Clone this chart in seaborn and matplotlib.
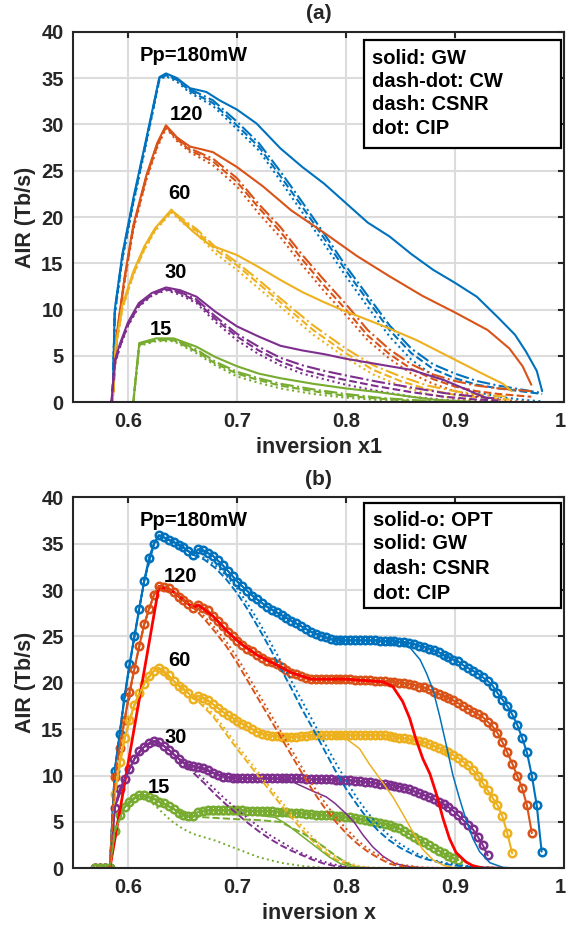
import numpy as np
import matplotlib
matplotlib.use("Agg")
import matplotlib.pyplot as plt
from matplotlib.patches import Rectangle
from matplotlib.transforms import ScaledTranslation
import seaborn as sns

# ---------------- colours ----------------
C_BLUE, C_ORANGE, C_YELLOW, C_PURPLE, C_GREEN = "#0072BD", "#D95319", "#EDB120", "#7E2F8E", "#77AC30"
C_RED = "#FF0000"

# ---------------- panel (a) data ----------------
x_a_blue_gw = [0.575,0.586,0.588,0.595,0.605,0.617,0.629,0.635,0.645,0.657,0.672,0.684,0.70,0.718,0.74,0.76,0.78,0.80,0.82,0.84,0.86,0.88,0.90,0.92,0.94,0.955,0.965,0.975,0.98]
y_a_blue_gw = [0,0,10.0,16.0,22.0,28.5,35.1,35.5,35.0,33.9,33.5,32.6,31.6,30.1,27.4,25.4,23.6,21.5,19.4,17.9,16.0,14.3,12.9,11.4,9.1,7.3,5.5,3.4,1.2]
x_a_blue_d = [0.575,0.586,0.588,0.595,0.605,0.617,0.629,0.635,0.645,0.657,0.678,0.70,0.72,0.74,0.76,0.78,0.80,0.82,0.84,0.86,0.88,0.90,0.92,0.94,0.96,0.98]
y_a_blue_cw = [0,0,9.8,15.8,21.8,28.3,35.0,35.4,34.9,33.8,32.6,30.3,28.0,24.9,21.6,18.2,14.7,11.5,8.3,5.8,4.1,3.1,2.3,1.8,1.4,1.0]
y_a_blue_csnr = [0,0,9.6,15.6,21.6,28.2,34.9,35.3,34.8,33.6,32.3,29.9,27.6,24.4,21.1,17.7,14.2,11.0,7.8,5.3,3.6,2.6,1.9,1.5,1.2,0.9]
y_a_blue_cip = [0,0,9.4,15.4,21.4,28.0,34.8,35.2,34.6,33.4,32.0,29.5,27.2,23.9,20.5,17.1,13.6,10.3,7.1,4.6,2.9,1.8,1.1,0.6,0.3,0.1]

x_a_orange_gw = [0.575,0.586,0.590,0.597,0.605,0.617,0.627,0.635,0.645,0.657,0.668,0.678,0.70,0.724,0.75,0.78,0.81,0.84,0.87,0.90,0.93,0.95,0.962,0.97]
y_a_orange_gw = [0,0,7.5,13.5,19.1,24.5,28.0,29.9,28.6,27.6,27.3,27.0,25.4,23.3,20.7,18.3,15.8,13.6,11.5,9.7,7.8,5.8,3.9,1.9]
x_a_orange_d = [0.575,0.586,0.590,0.597,0.605,0.617,0.627,0.635,0.645,0.657,0.678,0.70,0.72,0.74,0.76,0.78,0.80,0.82,0.84,0.86,0.88,0.90,0.92,0.94,0.96,0.97]
y_a_orange_cw = [0,0,7.3,13.3,18.9,24.3,27.8,29.8,28.5,27.4,26.3,24.2,21.4,18.9,15.9,13.2,10.6,7.8,5.7,4.1,3.0,2.3,1.8,1.5,1.3,1.2]
y_a_orange_csnr = [0,0,7.2,13.2,18.8,24.2,27.7,29.7,28.4,27.2,26.0,23.8,21.0,18.4,15.4,12.6,10.0,7.2,5.2,3.6,2.5,1.7,1.2,0.9,0.7,0.6]
y_a_orange_cip = [0,0,7.0,13.0,18.6,24.0,27.5,29.6,28.2,27.0,25.6,23.3,20.4,17.8,14.8,12.0,9.4,6.7,4.7,3.1,2.0,1.2,0.7,0.3,0.1,0.05]

x_a_yellow_gw = [0.575,0.586,0.589,0.595,0.605,0.615,0.625,0.64,0.65,0.66,0.675,0.70,0.72,0.74,0.76,0.78,0.80,0.82,0.835,0.865,0.895,0.925,0.944,0.952]
y_a_yellow_gw = [0,0,6.2,10.5,14.1,16.8,18.8,20.8,19.5,18.4,17.0,15.9,14.6,13.2,11.9,10.8,9.8,8.9,8.2,6.7,4.9,3.1,2.0,1.2]
x_a_yellow_d = [0.575,0.586,0.589,0.595,0.605,0.615,0.625,0.64,0.65,0.663,0.68,0.70,0.72,0.74,0.77,0.80,0.825,0.85,0.875,0.90,0.925,0.95]
y_a_yellow_cw = [0,0,6.0,10.3,13.9,16.6,18.7,20.7,19.8,18.7,16.8,15.1,13.2,11.2,8.3,5.8,4.0,2.8,1.8,1.2,0.8,0.6]
y_a_yellow_csnr = [0,0,5.9,10.2,13.8,16.5,18.6,20.6,19.6,18.5,16.5,14.8,12.8,10.8,7.8,5.3,3.5,2.3,1.4,0.8,0.5,0.3]
y_a_yellow_cip = [0,0,5.8,10.1,13.7,16.4,18.5,20.5,19.4,18.2,16.1,14.3,12.3,10.3,7.3,4.8,3.0,1.8,0.9,0.4,0.15,0.05]

x_a_purple_gw = [0.575,0.585,0.588,0.593,0.60,0.61,0.622,0.635,0.648,0.663,0.68,0.70,0.72,0.74,0.76,0.78,0.80,0.83,0.86,0.89,0.91,0.93]
y_a_purple_gw = [0,0,4.5,6.4,8.6,10.7,11.8,12.4,12.1,11.4,9.8,8.2,7.1,6.1,5.6,5.2,4.7,4.1,3.5,2.4,1.4,0.4]
x_a_purple_d = [0.575,0.585,0.588,0.593,0.60,0.61,0.622,0.635,0.648,0.663,0.68,0.70,0.72,0.74,0.76,0.78,0.80,0.83,0.86,0.89,0.92,0.94]
y_a_purple_cw = [0,0,4.3,6.2,8.4,10.5,11.7,12.3,11.9,11.1,9.3,7.4,6.0,4.8,4.0,3.4,2.9,2.2,1.6,1.0,0.6,0.4]
y_a_purple_csnr = [0,0,4.2,6.1,8.3,10.4,11.6,12.2,11.8,10.9,9.0,7.1,5.6,4.4,3.5,2.9,2.4,1.7,1.1,0.6,0.3,0.2]
y_a_purple_cip = [0,0,4.1,6.0,8.2,10.3,11.5,12.1,11.6,10.7,8.7,6.7,5.2,4.0,3.1,2.5,1.9,1.2,0.6,0.25,0.08,0.02]

x_a_green_gw = [0.575,0.605,0.6105,0.626,0.642,0.663,0.68,0.70,0.72,0.74,0.77,0.80,0.83,0.86,0.88,0.90,0.92]
y_a_green_gw = [0,0,6.4,6.9,6.9,6.0,4.9,3.9,3.1,2.6,2.0,1.5,1.1,0.6,0.3,0.15,0.05]
x_a_green_d = [0.575,0.605,0.6105,0.626,0.642,0.663,0.68,0.70,0.72,0.74,0.77,0.80,0.83,0.86,0.90]
y_a_green_cw = [0,0,6.3,6.8,6.8,5.7,4.4,3.3,2.6,2.0,1.4,0.9,0.5,0.25,0.05]
y_a_green_csnr = [0,0,6.2,6.7,6.7,5.5,4.2,3.1,2.4,1.8,1.2,0.7,0.4,0.15,0.03]
y_a_green_cip = [0,0,6.1,6.6,6.6,5.3,4.0,2.8,2.1,1.5,0.9,0.5,0.25,0.08,0.0]

# ---------------- panel (b) data ----------------
# OPT curves: one value per marker (marker spacing 0.0045 in x, starting at 0.57)
y_b_blue_opt = [0,0,0,0,
    10.5,14.5,18.5,22.0,25.0,28.0,31.0,33.5,35.0,35.9,
    35.7,35.4,35.2,34.9,34.6,34.2,33.8,
    34.4,34.3,34.0,33.7,33.2,32.7,32.1,31.5,
    30.9,30.4,29.9,29.4,29.0,28.6,28.2,27.9,27.6,27.3,
    27.0,26.7,26.4,26.1,25.8,25.5,25.3,25.1,24.9,24.7,
    24.6,24.6,24.6,24.6,24.6,24.6,24.6,24.6,24.6,24.5,
    24.5,24.5,24.5,24.4,24.4,24.3,24.2,24.0,23.9,23.7,
    23.5,23.3,23.0,22.8,22.5,22.3,21.9,21.6,21.3,21.0,
    20.6,20.2,19.7,18.9,18.2,17.5,16.6,15.5,14.1,12.5,
    10.0,6.8,1.8]
y_b_orange_opt = [0,0,0,0,
    9.9,13.0,16.0,19.0,21.5,24.0,26.3,28.0,29.5,30.4,
    30.3,30.2,29.8,29.3,28.9,28.5,28.1,
    28.4,28.1,27.8,27.2,26.7,26.1,25.5,25.0,
    24.5,24.1,23.7,23.4,23.0,22.7,22.4,22.2,22.0,21.7,
    21.4,21.1,20.9,20.7,20.5,20.4,20.4,20.4,20.4,20.4,
    20.4,20.4,20.4,20.4,20.3,20.3,20.3,20.3,20.2,20.2,
    20.2,20.1,20.1,20.0,20.0,19.9,19.8,19.6,19.5,19.3,
    19.0,18.8,18.6,18.4,18.1,17.8,17.5,17.2,16.9,16.6,
    16.3,15.8,15.3,14.6,13.6,12.5,11.3,10.0,8.7,6.8,
    3.8]
y_b_yellow_opt = [0,0,0,0,
    8.0,11.5,14.0,16.0,17.6,18.9,19.9,20.7,21.3,21.6,
    21.3,20.8,20.2,19.7,19.3,18.9,18.3,
    18.6,18.4,18.1,17.7,17.3,16.9,16.5,16.2,
    15.9,15.6,15.3,15.0,14.7,14.5,14.4,14.3,14.3,14.2,
    14.2,14.2,14.2,14.3,14.3,14.4,14.4,14.4,14.4,14.4,
    14.4,14.4,14.4,14.4,14.4,14.4,14.4,14.4,14.4,14.4,
    14.4,14.3,14.2,14.1,14.0,13.9,13.8,13.7,13.6,13.4,
    13.2,13.0,12.8,12.5,12.2,11.9,11.5,11.1,10.6,10.0,
    9.2,8.4,7.6,6.8,5.6,3.8,1.6]
y_b_purple_opt = [0,0,0,0,
    6.5,8.5,9.6,10.7,11.8,12.6,13.1,13.5,13.7,13.6,
    13.2,12.8,12.3,11.8,11.4,11.1,11.0,
    10.9,10.8,10.6,10.3,10.1,9.9,9.8,9.7,
    9.7,9.7,9.7,9.7,9.7,9.7,9.7,9.7,9.7,9.7,
    9.7,9.7,9.7,9.7,9.6,9.6,9.6,9.6,9.6,9.6,
    9.5,9.5,9.5,9.5,9.4,9.4,9.3,9.3,9.2,9.1,
    9.1,9.0,8.9,8.8,8.7,8.5,8.3,8.1,7.9,7.7,
    7.5,7.2,6.9,6.6,6.2,5.7,5.2,4.7,4.2,3.4,
    2.5,1.4]
y_b_green_opt = [0,0,0,0,
    4.0,5.8,6.6,7.2,7.6,7.9,7.9,7.7,7.5,7.2,
    7.0,6.7,6.4,6.0,5.8,5.6,5.6,
    6.1,6.2,6.3,6.3,6.3,6.3,6.3,6.3,
    6.3,6.3,6.2,6.2,6.2,6.2,6.2,6.2,6.1,6.1,
    6.1,6.0,6.0,6.0,5.9,5.9,5.8,5.8,5.7,5.7,
    5.6,5.6,5.5,5.5,5.4,5.3,5.2,5.1,5.0,4.9,
    4.8,4.7,4.5,4.3,4.0,3.7,3.4,3.1,2.8,2.5,
    2.2,1.9,1.6,1.3,1.1,0.9]

x_b_blue_gw = [0.57,0.5835,0.588,0.597,0.606,0.615,0.624,0.6285,0.642,0.6555,0.66,0.6645,0.678,0.6915,0.705,0.7185,0.732,0.75,0.768,0.786,0.80,0.83,0.85,0.858,0.868,0.874,0.88,0.886,0.892,0.898,0.904,0.91,0.9165,0.9226,0.932,0.944,0.96]
y_b_blue_gw = [0,0,10.5,18.5,25.0,31.0,35.0,35.9,35.2,34.2,33.8,34.4,33.7,32.1,30.4,29.0,27.9,26.7,25.5,24.7,24.6,24.6,24.4,23.9,22.5,21.0,19.2,16.4,13.3,10.1,7.6,5.3,3.2,1.8,0.6,0.1,0.0]
x_b_blue_d = [0.57,0.5835,0.588,0.597,0.606,0.615,0.624,0.6285,0.642,0.6555,0.66,0.67,0.68,0.69,0.70,0.71,0.72,0.73,0.74,0.75,0.76,0.77,0.78,0.79,0.80,0.81,0.82,0.83,0.84,0.85,0.86,0.87,0.88,0.89,0.90,0.92,0.95,0.98]
y_b_blue_csnr = [0,0,10.5,18.5,25.0,31.0,35.0,35.9,35.2,34.2,33.8,33.3,32.4,31.2,29.7,27.9,25.9,23.8,21.6,19.4,17.1,15.0,12.8,10.6,8.6,6.9,5.3,4.0,3.0,2.2,1.6,1.1,0.8,0.5,0.3,0.1,0.0,0.0]
y_b_blue_cip = [0,0,10.5,18.5,25.0,31.0,35.0,35.9,35.2,34.2,33.8,33.5,32.7,31.6,30.2,28.5,26.6,24.5,22.4,20.2,18.0,15.8,13.6,11.5,9.5,7.6,6.0,4.6,3.5,2.6,1.9,1.3,0.9,0.6,0.4,0.15,0.0,0.0]

x_b_red_gw = [0.57,0.5835,0.6285,0.642,0.6555,0.66,0.6645,0.678,0.6915,0.705,0.7185,0.732,0.75,0.768,0.80,0.834,0.843,0.852,0.8584,0.864,0.8706,0.877,0.883,0.889,0.895,0.901,0.91,0.916,0.925,0.945]
y_b_red_gw = [0,0,30.4,29.8,28.5,28.1,28.4,27.2,25.5,24.1,23.0,22.2,21.1,20.4,20.4,20.1,19.6,18.0,16.2,14.0,11.8,10.2,8.0,5.4,3.2,1.7,0.7,0.3,0.05,0.0]
x_b_orange_d = [0.57,0.5835,0.588,0.597,0.606,0.615,0.624,0.6285,0.642,0.6555,0.66,0.67,0.68,0.69,0.70,0.71,0.72,0.73,0.74,0.75,0.76,0.77,0.78,0.79,0.80,0.81,0.82,0.83,0.84,0.85,0.87,0.90,0.97]
y_b_orange_csnr = [0,0,9.9,16.0,21.5,26.3,29.5,30.4,29.8,28.5,28.1,26.9,25.5,24.0,22.2,20.2,18.2,16.2,14.2,12.2,10.2,8.3,6.6,5.1,3.8,2.7,1.8,1.1,0.5,0.2,0.05,0.0,0.0]
y_b_orange_cip = [0,0,9.9,16.0,21.5,26.3,29.5,30.4,29.8,28.5,28.1,27.2,25.9,24.5,22.8,20.8,18.8,16.8,14.8,12.8,10.8,8.9,7.2,5.6,4.3,3.1,2.1,1.4,0.8,0.4,0.1,0.0,0.0]

x_b_yellow_gw = [0.57,0.5835,0.588,0.597,0.606,0.615,0.624,0.6285,0.642,0.6555,0.66,0.6645,0.678,0.6915,0.705,0.7185,0.732,0.75,0.77,0.788,0.80,0.8125,0.8217,0.831,0.843,0.852,0.861,0.87,0.88,0.89,0.90,0.955]
y_b_yellow_gw = [0,0,8.0,14.0,17.6,19.9,21.3,21.6,20.2,18.9,18.3,18.6,17.7,16.5,15.6,14.7,14.3,14.2,14.2,14.4,14.0,12.9,11.2,9.7,7.7,5.9,4.0,2.1,0.9,0.3,0.05,0.0]
x_b_yellow_d = [0.57,0.5835,0.588,0.597,0.606,0.615,0.624,0.6285,0.642,0.6555,0.66,0.6645,0.678,0.69,0.70,0.71,0.72,0.73,0.74,0.75,0.76,0.77,0.78,0.79,0.80,0.81,0.82,0.85,0.95]
y_b_yellow_csnr = [0,0,8.0,14.0,17.6,19.9,21.3,21.6,20.2,18.9,18.3,18.0,16.4,14.5,12.9,11.4,9.9,8.4,6.9,5.5,4.1,2.9,1.8,1.0,0.5,0.15,0.05,0.0,0.0]
y_b_yellow_cip = [0,0,8.0,14.0,17.6,19.9,21.3,21.6,20.2,18.9,18.3,18.2,16.7,14.9,13.3,11.8,10.3,8.8,7.3,5.9,4.5,3.3,2.2,1.3,0.7,0.3,0.1,0.0,0.0]

x_b_purple_gw = [0.57,0.5835,0.588,0.597,0.606,0.615,0.624,0.633,0.642,0.651,0.66,0.678,0.696,0.72,0.745,0.7515,0.77,0.782,0.79,0.80,0.808,0.8156,0.8247,0.834,0.845,0.86,0.87,0.93]
y_b_purple_gw = [0,0,6.5,9.6,11.8,13.1,13.7,13.2,12.3,11.4,11.0,10.3,9.7,9.7,9.6,9.3,8.3,7.7,7.0,5.9,4.9,3.6,2.3,1.3,0.5,0.15,0.05,0.0]
x_b_purple_d = [0.57,0.5835,0.588,0.597,0.606,0.615,0.624,0.633,0.642,0.651,0.66,0.67,0.68,0.69,0.70,0.71,0.72,0.73,0.74,0.75,0.76,0.77,0.78,0.79,0.80,0.82,0.93]
y_b_purple_csnr = [0,0,6.5,9.6,11.8,13.1,13.7,13.2,12.3,11.4,10.3,9.2,8.0,6.9,5.9,4.9,4.0,3.2,2.5,1.9,1.4,0.9,0.5,0.25,0.1,0.0,0.0]
y_b_purple_cip = [0,0,6.5,9.6,11.8,13.1,13.7,13.2,12.3,11.4,10.6,9.6,8.5,7.4,6.4,5.4,4.5,3.6,2.9,2.2,1.6,1.1,0.7,0.4,0.2,0.0,0.0]

x_b_green_gw = [0.57,0.5835,0.588,0.597,0.6105,0.624,0.642,0.6555,0.66,0.67,0.70,0.72,0.735,0.745,0.755,0.765,0.775,0.785,0.795,0.805,0.82,0.905]
y_b_green_gw = [0,0,4.0,6.6,7.9,7.5,6.4,5.6,5.6,5.8,5.8,5.7,5.5,4.8,3.9,3.0,2.1,1.2,0.5,0.15,0.0,0.0]
x_b_green_csnr = [0.57,0.5835,0.588,0.597,0.6105,0.624,0.642,0.6555,0.66,0.67,0.70,0.72,0.74,0.75,0.76,0.77,0.78,0.79,0.80,0.81,0.83,0.905]
y_b_green_csnr = [0,0,4.0,6.6,7.9,7.5,6.4,5.6,5.6,5.5,5.3,5.2,5.0,4.4,3.8,3.1,2.3,1.4,0.6,0.1,0.0,0.0]
x_b_green_cip = [0.57,0.5835,0.588,0.597,0.6105,0.62,0.63,0.64,0.65,0.66,0.68,0.70,0.72,0.74,0.76,0.78,0.80,0.905]
y_b_green_cip = [0,0,4.0,6.6,7.9,7.3,6.2,5.1,4.3,3.7,3.0,2.1,1.2,0.6,0.25,0.05,0.0,0.0]

# ---------------- labels ----------------
power_labels = ["Pp=180mW", "120", "60", "30", "15"]
lab_a_xy = [(0.6605, 37.4), (0.6535, 31.1), (0.6473, 22.5), (0.644, 14.0), (0.6303, 7.9)]
lab_b_xy = [(0.6605, 37.55), (0.6482, 31.5), (0.6473, 22.4), (0.644, 14.1), (0.6285, 8.7)]
legend_a = ["solid: GW", "dash-dot: CW", "dash: CSNR", "dot: CIP"]
legend_b = ["solid-o: OPT", "solid: GW", "dash: CSNR", "dot: CIP"]
xticks = [0.6, 0.7, 0.8, 0.9, 1.0]
xtick_labels = ["0.6", "0.7", "0.8", "0.9", "1"]
yticks = [0, 5, 10, 15, 20, 25, 30, 35, 40]

# ---------------- style ----------------
sns.set_style("white")
plt.rcParams["font.family"] = ["Liberation Sans", "DejaVu Sans"]
plt.rcParams["font.weight"] = "bold"
TXT = "#262626"

fig = plt.figure(figsize=(5.67, 9.27), dpi=100)
ax1 = fig.add_axes([0.1293, 0.566, 0.8654, 0.3998])
ax2 = fig.add_axes([0.1293, 0.0633, 0.8654, 0.4002])


def draw(ax, x, y, color, ls="-", lw=1.5, z=2, **kw):
    sns.lineplot(x=np.asarray(x, float), y=np.asarray(y, float), ax=ax, color=color,
                 linestyle=ls, linewidth=lw, estimator=None, sort=False, zorder=z,
                 legend=False, **kw)


# panel (a)
groups_a = [
    (C_BLUE, x_a_blue_gw, y_a_blue_gw, x_a_blue_d, y_a_blue_cw, y_a_blue_csnr, y_a_blue_cip),
    (C_ORANGE, x_a_orange_gw, y_a_orange_gw, x_a_orange_d, y_a_orange_cw, y_a_orange_csnr, y_a_orange_cip),
    (C_YELLOW, x_a_yellow_gw, y_a_yellow_gw, x_a_yellow_d, y_a_yellow_cw, y_a_yellow_csnr, y_a_yellow_cip),
    (C_PURPLE, x_a_purple_gw, y_a_purple_gw, x_a_purple_d, y_a_purple_cw, y_a_purple_csnr, y_a_purple_cip),
    (C_GREEN, x_a_green_gw, y_a_green_gw, x_a_green_d, y_a_green_cw, y_a_green_csnr, y_a_green_cip),
]
for c, xg, yg, xd, ycw, ycs, yci in groups_a:
    draw(ax1, xg, yg, c, "-", 1.5)
    draw(ax1, xd, ycw, c, "-.", 1.5)
    draw(ax1, xd, ycs, c, "--", 1.5)
    draw(ax1, xd, yci, c, ":", 1.5)

# panel (b): OPT first
for c, yo in [(C_BLUE, y_b_blue_opt), (C_ORANGE, y_b_orange_opt), (C_YELLOW, y_b_yellow_opt),
              (C_PURPLE, y_b_purple_opt), (C_GREEN, y_b_green_opt)]:
    xo = np.round(0.57 + 0.0045 * np.arange(len(yo)), 4)
    draw(ax2, xo, yo, c, "-", 1.5, z=2, marker="o", markersize=5.4,
         markerfacecolor="none", markeredgecolor=c, markeredgewidth=1.8)

groups_b = [
    (C_BLUE, 1.1, x_b_blue_gw, y_b_blue_gw, x_b_blue_d, y_b_blue_csnr, x_b_blue_d, y_b_blue_cip),
    (C_RED, 2.0, x_b_red_gw, y_b_red_gw, None, None, None, None),
    (C_YELLOW, 1.1, x_b_yellow_gw, y_b_yellow_gw, x_b_yellow_d, y_b_yellow_csnr, x_b_yellow_d, y_b_yellow_cip),
    (C_PURPLE, 1.1, x_b_purple_gw, y_b_purple_gw, x_b_purple_d, y_b_purple_csnr, x_b_purple_d, y_b_purple_cip),
    (C_GREEN, 1.1, x_b_green_gw, y_b_green_gw, x_b_green_csnr, y_b_green_csnr, x_b_green_cip, y_b_green_cip),
]
for c, lw, xg, yg, xcs, ycs, xci, yci in groups_b:
    draw(ax2, xg, yg, c, "-", lw, z=3)
    if xcs is not None:
        draw(ax2, xcs, ycs, c, "--", 1.4, z=3)
        draw(ax2, xci, yci, c, ":", 1.4, z=3)
draw(ax2, x_b_orange_d, y_b_orange_csnr, C_ORANGE, "--", 1.4, z=3)
draw(ax2, x_b_orange_d, y_b_orange_cip, C_ORANGE, ":", 1.4, z=3)


def style_axes(ax, title, xlabel, labels_xy, legend_lines, box, text_y, text_x):
    ax.set_xlim(0.55, 1.0)
    ax.set_ylim(0, 40)
    ax.set_xticks(xticks)
    ax.set_xticklabels(xtick_labels)
    ax.set_yticks(yticks)
    ax.grid(True, color="#dcdcdc", linewidth=1.5)
    ax.set_axisbelow(True)
    for s in ax.spines.values():
        s.set_color(TXT)
        s.set_linewidth(1.5)
        s.set_visible(True)
        s.set_zorder(6)
    ax.tick_params(direction="in", length=4.5, width=1.5, colors=TXT, labelsize=14.5,
                   top=True, right=True, pad=7)
    for lab in ax.get_xticklabels() + ax.get_yticklabels():
        lab.set_fontweight("bold")
    # keep the last x tick label ("1") inside the figure edge
    last = ax.get_xticklabels()[-1]
    last.set_transform(last.get_transform() + ScaledTranslation(-4 / 100, 0, fig.dpi_scale_trans))
    ax.set_xlabel(xlabel, fontsize=15.5, fontweight="bold", color=TXT, labelpad=4)
    ax.set_ylabel("AIR (Tb/s)", fontsize=15.5, fontweight="bold", color=TXT, labelpad=4)
    ax.set_title(title, fontsize=15, fontweight="bold", color=TXT, pad=9)
    for txt, (tx, ty) in zip(power_labels, labels_xy):
        ax.text(tx, ty, txt, ha="center", va="center", fontsize=14.5, fontweight="bold",
                color="black", zorder=7)
    x0, x1, y0, y1 = box
    ax.add_patch(Rectangle((x0, y0), x1 - x0, y1 - y0, facecolor="white", edgecolor="black",
                           linewidth=1.6, zorder=8))
    for txt, ty in zip(legend_lines, text_y):
        ax.text(text_x, ty, txt, ha="left", va="center", fontsize=14.5, fontweight="bold",
                color="black", zorder=9)


style_axes(ax1, "(a)", "inversion x1", lab_a_xy, legend_a, (0.8162, 0.9973, 27.5, 39.1),
           [37.15, 34.62, 32.1, 29.58], 0.8242)
style_axes(ax2, "(b)", "inversion x", lab_b_xy, legend_b, (0.817, 0.997, 28.1, 39.35),
           [37.55, 35.04, 32.35, 29.65], 0.8247)

fig.savefig("out.png", dpi=100)
